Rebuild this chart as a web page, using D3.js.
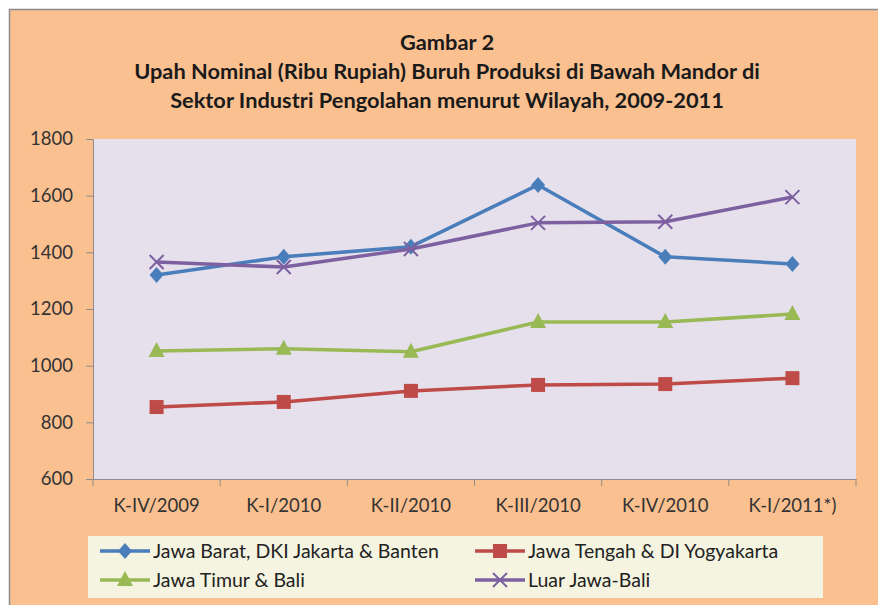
<!DOCTYPE html>
<html><head><meta charset="utf-8">
<script src="https://cdn.jsdelivr.net/npm/d3@7"></script>
<style>body{margin:0;background:#fff;}svg{display:block;font-family:Lato,"Noto Sans",sans-serif;}</style>
</head><body>
<svg id="c" width="878" height="605"></svg>
<script>
const titleLines = ["Gambar 2","Upah Nominal (Ribu Rupiah) Buruh Produksi di Bawah Mandor di","Sektor Industri Pengolahan menurut Wilayah, 2009-2011"];
const categories = ["K-IV/2009","K-I/2010","K-II/2010","K-III/2010","K-IV/2010","K-I/2011*)"];
const yTicks = [600,800,1000,1200,1400,1600,1800];
const seriesNames = ["Jawa Barat, DKI Jakarta & Banten","Jawa Tengah & DI Yogyakarta","Jawa Timur & Bali","Luar Jawa-Bali"];
const jawaBarat = [1320,1384,1420,1638,1384,1359];
const jawaTengah = [854,872,911,932,935,956];
const jawaTimur = [1052,1060,1049,1154,1154,1182];
const luarJawa = [1366,1348,1412,1504,1508,1595];
const seriesValues = [jawaBarat,jawaTengah,jawaTimur,luarJawa];
const colors = ["#4a7ebb","#be4b48","#98b954","#7d60a0"];
const markers = ["diamond","square","triangle","x"];

const svg = d3.select("#c");
svg.append("rect").attr("x",9.5).attr("y",9.5).attr("width",880).attr("height",600)
  .attr("fill","#fac090").attr("stroke","#8c8c8c").attr("stroke-width",1.5);

titleLines.forEach((t,i)=>{
  svg.append("text").attr("x",447).attr("y",50+i*29).attr("text-anchor","middle")
    .attr("font-weight","bold").attr("font-size",21.8).attr("fill","#1a1a1a").text(t);
});

const L=93, R=856, T=139, B=479;
const x = d3.scalePoint().domain(categories).range([L,R]).padding(0.5);
const xb = d3.scaleBand().domain(categories).range([L,R]);
const y = d3.scaleLinear().domain([600,1800]).range([B,T]);

svg.append("rect").attr("x",L).attr("y",T).attr("width",R-L).attr("height",B-T).attr("fill","#e6e0ec");

const yAxis = svg.append("g").attr("transform",`translate(${L},0)`)
  .call(d3.axisLeft(y).tickValues(yTicks).tickSize(7).tickPadding(13).tickFormat(d3.format("d")));
yAxis.select(".domain").attr("stroke","#8c8c8c");
yAxis.selectAll(".tick line").attr("stroke","#8c8c8c");
yAxis.selectAll("text").attr("font-size",18.5).attr("fill","#333").attr("font-family","Lato,sans-serif");

const xAxis = svg.append("g").attr("transform",`translate(0,${B})`)
  .call(d3.axisBottom(xb).tickSize(0).tickPadding(20));
xAxis.select(".domain").attr("stroke","#8c8c8c");
xAxis.selectAll("text").attr("font-size",18.5).attr("fill","#333").attr("font-family","Lato,sans-serif");
const bounds = categories.map(c=>xb(c)).concat([R]);
svg.append("g").selectAll("line").data(bounds).join("line")
  .attr("x1",d=>d).attr("x2",d=>d).attr("y1",B).attr("y2",B+7).attr("stroke","#8c8c8c");

function drawMarker(g, type, cx, cy, color){
  if(type==="diamond"){
    g.append("path").attr("d",`M${cx},${cy-8}L${cx+7},${cy}L${cx},${cy+8}L${cx-7},${cy}Z`).attr("fill",color);
  } else if(type==="square"){
    g.append("rect").attr("x",cx-7).attr("y",cy-7).attr("width",14).attr("height",14).attr("fill",color);
  } else if(type==="triangle"){
    g.append("path").attr("d",`M${cx},${cy-9}L${cx+8},${cy+6}L${cx-8},${cy+6}Z`).attr("fill",color);
  } else {
    g.append("path").attr("d",`M${cx-7},${cy-7}L${cx+7},${cy+7}M${cx+7},${cy-7}L${cx-7},${cy+7}`)
      .attr("stroke",color).attr("stroke-width",2);
  }
}

const line = d3.line().x((d,i)=>x(categories[i])).y(d=>y(d));
seriesValues.forEach((vals,si)=>{
  const g = svg.append("g");
  g.append("path").datum(vals).attr("d",line).attr("fill","none")
    .attr("stroke",colors[si]).attr("stroke-width",3.5).attr("stroke-linejoin","round");
  vals.forEach((v,i)=>drawMarker(g,markers[si],x(categories[i]),y(v),colors[si]));
});

svg.append("rect").attr("x",88).attr("y",536).attr("width",735).attr("height",62).attr("fill","#f5f4e1");
const legPos = [[100,551],[475,551],[100,580],[475,580]];
seriesNames.forEach((n,si)=>{
  const [lx,ly]=legPos[si];
  const g=svg.append("g");
  g.append("line").attr("x1",lx).attr("x2",lx+50).attr("y1",ly).attr("y2",ly)
    .attr("stroke",colors[si]).attr("stroke-width",3.5);
  drawMarker(g,markers[si],lx+25,ly,colors[si]);
  g.append("text").attr("x",lx+53).attr("y",ly+6.5).attr("font-size",19.5).attr("fill","#222").text(n);
});
</script>
</body></html>
